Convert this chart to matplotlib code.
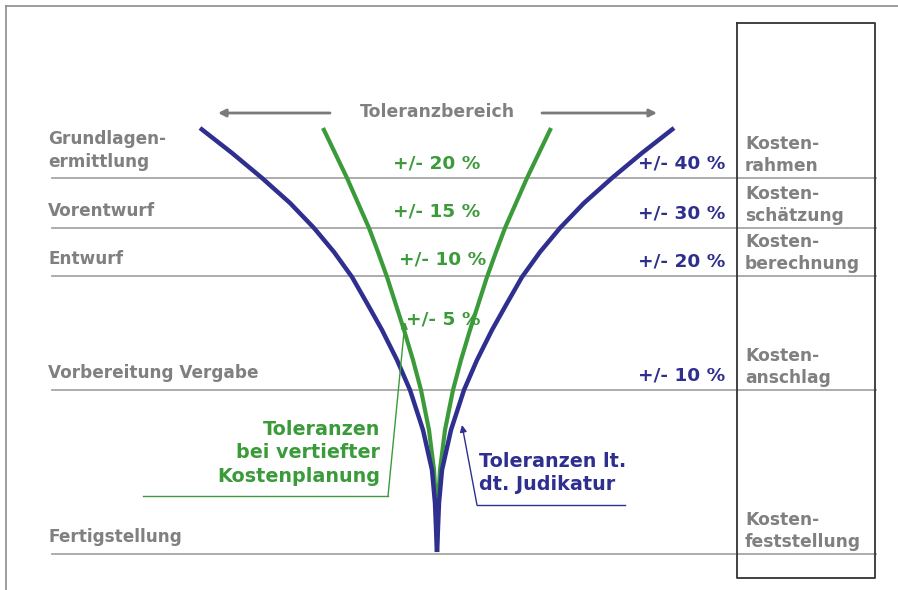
import matplotlib.pyplot as plt

# --- data ---
phases = ["Grundlagen-\nermittlung", "Vorentwurf", "Entwurf",
          "Vorbereitung Vergabe", "Fertigstellung"]
cost_stages = ["Kosten-\nrahmen", "Kosten-\nschätzung", "Kosten-\nberechnung",
               "Kosten-\nanschlag", "Kosten-\nfeststellung"]
tol_judikatur = [40, 30, 20, 10]    # %
tol_vertieft = [20, 15, 10, 5]      # %

# funnel curves: vertical position and half width (pixels of the original)
curve_y    = [128, 153, 178, 203, 228, 252, 277, 305, 330, 360, 390, 430, 470, 503, 552]
blue_half  = [237, 205, 175, 147, 123, 103, 85, 69, 55, 40, 27, 14, 5, 2, 0]
green_half = [114, 102, 90, 79, 68, 59, 50, 41, 33, 24, 16, 8, 3, 1, 0]

# --- layout ---
W, H = 898, 590
CX = 437                               # funnel axis
row_lines = [178, 228, 276, 390, 554]  # separators below each phase
X0, X1 = 52, 876                       # separator extent
BOX = (737, 23, 875, 578)

BLUE = "#2f2f8f"
GREEN = "#3b9b3b"
GREY_TXT = "#808080"
GREY_LN = "#a6a6a6"

plt.rcParams["font.family"] = ["DejaVu Sans"]
fig = plt.figure(figsize=(W / 100, H / 100), dpi=100)
ax = fig.add_axes([0, 0, 1, 1])
ax.set_xlim(0, W)
ax.set_ylim(H, 0)
ax.axis("off")

# outer frame (top + left only)
ax.plot([6, W], [6, 6], color="#8c8c8c", lw=1.2)
ax.plot([6, 6], [6, H], color="#8c8c8c", lw=1.2)

# separators
for y in row_lines:
    ax.plot([X0, X1], [y, y], color=GREY_LN, lw=1.3, zorder=1)

# right box
bx0, by0, bx1, by1 = BOX
ax.plot([bx0, bx1, bx1, bx0, bx0], [by0, by0, by1, by1, by0],
        color="#333333", lw=1.3, zorder=2)

# phase labels (left)
for name, y in zip(phases, row_lines):
    ax.text(48, y - 17 - 10.5 * name.count("\n"), name, ha="left", va="center",
            fontsize=12.2, fontweight="bold", color=GREY_TXT, linespacing=1.35)

# cost stage labels (right box)
for name, y in zip(cost_stages, row_lines):
    ax.text(745, y - 23, name, ha="left", va="center",
            fontsize=12.3, fontweight="bold", color=GREY_TXT, linespacing=1.35)

# blue tolerance labels
for t, y in zip(tol_judikatur, row_lines[:4]):
    ax.text(725, y - 15, f"+/- {t} %", ha="right", va="center",
            fontsize=13.3, fontweight="bold", color=BLUE)

# green tolerance labels
green_pos = [(437, 163), (437, 211), (443, 260), (443, 320)]
for t, (x, y) in zip(tol_vertieft, green_pos):
    ax.text(x, y, f"+/- {t} %", ha="center", va="center",
            fontsize=13.3, fontweight="bold", color=GREEN)

# funnel curves
kw = dict(solid_capstyle="butt", solid_joinstyle="round")
gl = [CX - h for h in green_half]
gr = [CX + h for h in green_half]
bl = [CX - h for h in blue_half]
br = [CX + h for h in blue_half]
ax.plot(gl, curve_y, color=GREEN, lw=3, zorder=3, **kw)
ax.plot(gr, curve_y, color=GREEN, lw=3, zorder=3, **kw)
ax.plot(bl, curve_y, color=BLUE, lw=3.2, zorder=4, **kw)
ax.plot(br, curve_y, color=BLUE, lw=3.2, zorder=4, **kw)

# Toleranzbereich header with arrows
ax.text(CX, 112, "Toleranzbereich", ha="center", va="center",
        fontsize=12.4, fontweight="bold", color=GREY_TXT)
arr = dict(arrowstyle="-|>", color="#7a7a7a", lw=2, mutation_scale=11,
           shrinkA=0, shrinkB=0)
ax.annotate("", xy=(218, 113), xytext=(330, 113), arrowprops=arr)
ax.annotate("", xy=(657, 113), xytext=(542, 113), arrowprops=arr)

# green callout
ax.text(380, 453, "Toleranzen\nbei vertiefter\nKostenplanung", ha="right", va="center",
        fontsize=13.8, fontweight="bold", color=GREEN, linespacing=1.3)
ax.plot([143, 388], [496, 496], color=GREEN, lw=1)
ax.annotate("", xy=(405, 322), xytext=(388, 496),
            arrowprops=dict(arrowstyle="-|>", color=GREEN, lw=1,
                            mutation_scale=10, shrinkA=0, shrinkB=0), zorder=5)

# blue callout
ax.text(479, 473, "Toleranzen lt.\ndt. Judikatur", ha="left", va="center",
        fontsize=13.8, fontweight="bold", color=BLUE, linespacing=1.27)
ax.plot([477, 625], [505, 505], color=BLUE, lw=1)
ax.annotate("", xy=(462, 425), xytext=(477, 505),
            arrowprops=dict(arrowstyle="-|>", color=BLUE, lw=1,
                            mutation_scale=10, shrinkA=0, shrinkB=0), zorder=5)

fig.savefig("out.png", dpi=100)
